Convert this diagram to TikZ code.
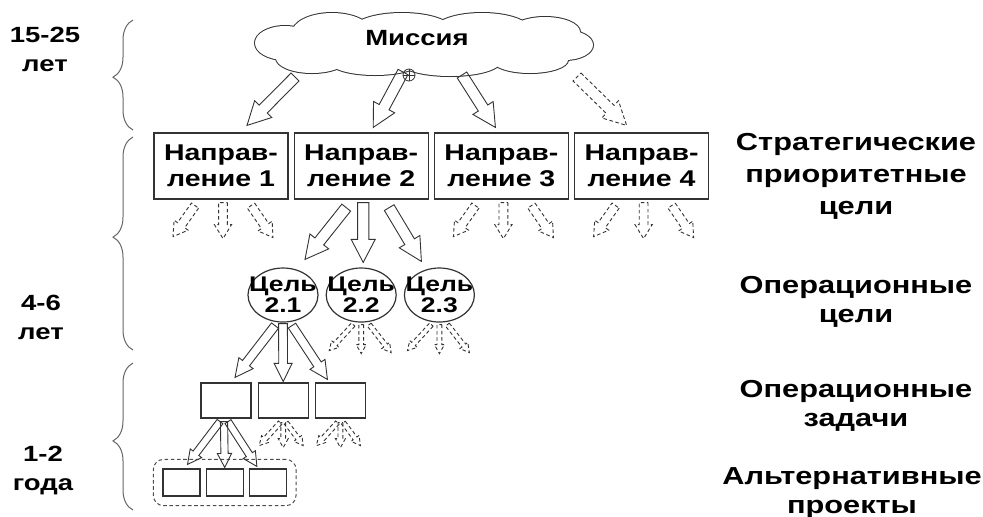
\documentclass[tikz,border=0pt]{standalone}
\usepackage{fontspec}
\setmainfont{Liberation Sans}[FakeStretch=1.25]
\usetikzlibrary{calc,positioning,fit,shapes.geometric,decorations.pathreplacing}

% hollow block arrow: shaft half width / head half width / head length
\tikzset{
  fatarrow/.style n args={3}{to path={
      ($(\tikztotarget)!#3!(\tikztostart)$) coordinate (fa-h)
      ($(\tikztostart)!#1!90:(\tikztotarget)$)
      -- ($(fa-h)!#1!90:(\tikztotarget)$)
      -- ($(fa-h)!#2!90:(\tikztotarget)$)
      -- (\tikztotarget)
      -- ($(fa-h)!#2!-90:(\tikztotarget)$)
      -- ($(fa-h)!#1!-90:(\tikztotarget)$)
      -- ($(\tikztostart)!#1!-90:(\tikztotarget)$)
      -- cycle}},
  ln/.style={draw=black!80, line width=0.45pt},
  dsh/.style={dash pattern=on 1.8pt off 1.3pt},
  bigarr/.style={ln, fatarrow={2.8pt}{6pt}{11.5pt}},
  midarr/.style={ln, fatarrow={2.2pt}{4.5pt}{9pt}},
  fanarr/.style={ln, dsh, fatarrow={2.2pt}{4.3pt}{7pt}},
  smlarr/.style={ln, fatarrow={1.8pt}{3.6pt}{7pt}},
  tinyarr/.style={ln, dsh, fatarrow={1.2pt}{2.5pt}{4.5pt}},
  brc/.style={decorate, decoration={brace, amplitude=10pt, aspect=#1}, draw=black!60, line width=0.5pt},
  lbl/.style={font=\fontsize{11pt}{14.5pt}\selectfont\bfseries, align=center},
  rlbl/.style={font=\fontsize{12.3pt}{14.5pt}\selectfont\bfseries, align=center},
  dirbox/.style={draw=black!80, line width=0.6pt, minimum width=67pt, minimum height=33pt, inner sep=0pt,
    align=center, font=\fontsize{11.4pt}{13pt}\selectfont\bfseries},
  goal/.style={ellipse, draw=black!80, line width=0.6pt, minimum width=35pt, minimum height=27pt, inner sep=0pt},
  glbl/.style={align=center, font=\fontsize{10.6pt}{10.5pt}\selectfont\bfseries},
  taskbox/.style={draw=black!80, line width=0.6pt, minimum width=25pt, minimum height=17.5pt, inner sep=0pt},
  projbox/.style={draw=black!80, line width=0.6pt, minimum width=18.5pt, minimum height=13.5pt, inner sep=0pt},
}

\begin{document}
\begin{tikzpicture}[x=0.5pt, y=-0.5pt]
  \useasboundingbox (0,0) rectangle (983,516);

  % time horizons
  \node[lbl] (y1) at (45,49) {15-25\\лет};
  \node[lbl] (y2) at (41,317) {4-6\\лет};
  \node[lbl] (y3) at (43,470) {1-2\\года};
  \draw[brc=0.48] (133,130) -- (133,20);
  \draw[brc=0.53] (133,350) -- (133,137);
  \draw[brc=0.47] (133,510) -- (133,363);

  % mission cloud: puffs outlined, then filled white
  \foreach \cx/\cy/\rx/\ry in {285/43/30/17, 312/58/36/15, 332/33/40/20, 402/30/50/17, 482/30/48/17,
      545/32/35/15, 565/45/28/15, 530/60/38/13, 450/62/50/14, 375/62/45/13}
    \draw[black!80, line width=1pt] (\cx,\cy) ellipse [x radius=\rx, y radius=\ry];
  \foreach \cx/\cy/\rx/\ry in {285/43/30/17, 312/58/36/15, 332/33/40/20, 402/30/50/17, 482/30/48/17,
      545/32/35/15, 565/45/28/15, 530/60/38/13, 450/62/50/14, 375/62/45/13, 424/45/130/22}
    \fill[white] (\cx,\cy) ellipse [x radius=\rx, y radius=\ry];
  \node[font=\fontsize{11pt}{12pt}\selectfont\bfseries] (mis) at (417,38) {Миссия};
  \coordinate (m1) at (295,77);
  \coordinate (m2) at (403,72);
  \coordinate (m3) at (462,75);
  \coordinate (m4) at (577,77);

  % strategic directions
  \node[dirbox] (d1) at (221,166) {Направ-\\ление 1};
  \node[dirbox, right=2.5pt of d1] (d2) {Направ-\\ление 2};
  \node[dirbox, right=2.5pt of d2] (d3) {Направ-\\ление 3};
  \node[dirbox, right=2.5pt of d3] (d4) {Направ-\\ление 4};

  \draw[bigarr] (m1) to ([shift={(26,-7)}]d1.north);
  \draw[bigarr] (m2) to ([shift={(12,-5)}]d2.north);
  \draw[bigarr] (m3) to ([shift={(-6,-5)}]d3.north);
  \draw[bigarr, dsh] (m4) to ([shift={(-15,-7)}]d4.north);
  \node[circle, draw=black!80, line width=0.4pt, minimum size=6pt, inner sep=0pt] (hnd) at (409,75) {};
  \draw[black!80, line width=0.3pt] (hnd.north) -- (hnd.south) (hnd.west) -- (hnd.east);

  % operational goals
  \node[goal, label={[glbl]center:Цель\\2.1}] (g1) at (283,295) {};
  \node[goal, right=3.5pt of g1, label={[glbl]center:Цель\\2.2}] (g2) {};
  \node[goal, right=3.5pt of g2, label={[glbl]center:Цель\\2.3}] (g3) {};

  \draw[bigarr] ([shift={(-15,8)}]d2.south) to ([shift={(22,-8)}]g1.north);
  \draw[bigarr] ([shift={(2,3)}]d2.south) to ([shift={(2,-5)}]g2.north);
  \draw[bigarr] ([shift={(28,8)}]d2.south) to ([shift={(-18,-6)}]g3.north);

  \foreach \b in {d1,d3,d4}
    \foreach \ta/\tb/\ha/\hb in {-26/6/-48/37, 2/3/2/39, 30/6/52/38}
      \draw[fanarr] ([shift={(\ta,\tb)}]\b.south) to ([shift={(\ha,\hb)}]\b.south);

  % operational tasks
  \node[taskbox] (t1) at (226,400.5) {};
  \node[taskbox, right=3pt of t1] (t2) {};
  \node[taskbox, right=3pt of t2] (t3) {};

  \draw[midarr] ([shift={(-8,3)}]g1.south) to ([shift={(9,-5)}]t1.north);
  \draw[midarr] ([shift={(0,1)}]g1.south) to ([shift={(0,-1)}]t2.north);
  \draw[midarr] ([shift={(9,3)}]g1.south) to ([shift={(-13,-3)}]t3.north);

  \foreach \g in {g2,g3}
    \foreach \ta/\tb/\ha/\hb in {-8/2/-32/28, 0/2/0/31, 8/2/30/30}
      \draw[tinyarr] ([shift={(\ta,\tb)}]\g.south) to ([shift={(\ha,\hb)}]\g.south);

  \foreach \t in {t2,t3}
    \foreach \ta/\tb/\ha/\hb in {-3/4/-24/27, 0/4/0/29, 3/4/20/27}
      \draw[tinyarr] ([shift={(\ta,\tb)}]\t.south) to ([shift={(\ha,\hb)}]\t.south);

  % alternative projects
  \node[projbox] (p1) at (181.5,482.5) {};
  \node[projbox, right=2.5pt of p1] (p2) {};
  \node[projbox, right=2.5pt of p2] (p3) {};
  \node[draw=black!70, line width=0.5pt, dsh, rounded corners=5pt, fit=(p1)(p3), inner sep=4.5pt] (alt) {};

  \draw[smlarr] ([shift={(-6,3)}]t1.south) to ([shift={(6,-4)}]p1.north);
  \draw[smlarr] ([shift={(-2,3)}]t1.south) to ([shift={(0,-1)}]p2.north);
  \draw[smlarr] ([shift={(2,3)}]t1.south) to ([shift={(-11,-2)}]p3.north);

  % levels
  \node[rlbl, font=\fontsize{12.3pt}{16pt}\selectfont\bfseries] (r1) at (856,176) {Стратегические\\приоритетные\\цели};
  \node[rlbl] (r2) at (856,302) {Операционные\\цели};
  \node[rlbl] (r3) at (856,406) {Операционные\\задачи};
  \node[rlbl] (r4) at (852,493) {Альтернативные\\проекты};
\end{tikzpicture}
\end{document}
